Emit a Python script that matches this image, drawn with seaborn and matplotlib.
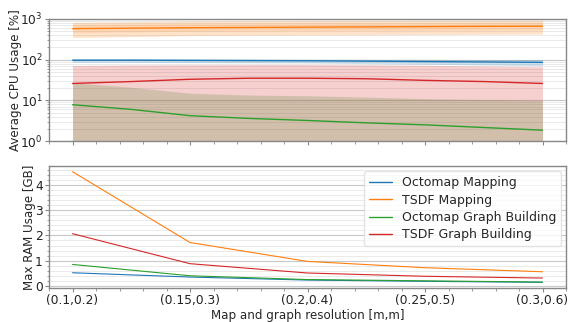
import numpy as np
import pandas as pd
import matplotlib
matplotlib.use("Agg")
import matplotlib.pyplot as plt
import seaborn as sns
from matplotlib.ticker import AutoMinorLocator, LogLocator, NullFormatter

sns.set_style("ticks")
plt.rcParams['font.family'] = ['DejaVu Sans']

# ---- data ----
resolutions = ["(0.1,0.2)", "(0.15,0.3)", "(0.2,0.4)", "(0.25,0.5)", "(0.3,0.6)"]
series_names = ["Octomap Mapping", "TSDF Mapping", "Octomap Graph Building", "TSDF Graph Building"]

# CPU usage (sampled along the resolution axis)
cpu_x = [0, 0.5, 1, 1.5, 2, 2.5, 3, 3.5, 4]
cpu_octo_map = [97, 97, 96, 95, 94, 92, 90, 88, 86]
cpu_octo_map_lo = [86, 86, 85, 84, 83, 80, 77, 74, 71]
cpu_octo_map_hi = [106, 106, 106, 105, 104, 103, 102, 101, 101]
cpu_tsdf_map = [580, 595, 610, 620, 630, 640, 650, 660, 665]
cpu_tsdf_map_lo = [350, 370, 390, 400, 405, 410, 415, 420, 425]
cpu_tsdf_map_hi = [830, 860, 890, 910, 920, 930, 935, 935, 935]
cpu_tsdf_map_lo2 = [460, 480, 500, 510, 520, 525, 530, 535, 540]
cpu_tsdf_map_hi2 = [740, 760, 780, 790, 800, 810, 815, 820, 820]
cpu_octo_graph = [7.8, 6.0, 4.2, 3.6, 3.2, 2.8, 2.5, 2.15, 1.85]
cpu_octo_graph_lo = [0.1, 0.1, 0.1, 0.1, 0.1, 0.1, 0.1, 0.1, 0.1]
cpu_octo_graph_hi = [27, 21, 15, 13.5, 13, 12, 11, 10.5, 10]
cpu_tsdf_graph = [26, 29, 33, 35, 35, 34, 31, 29, 26]
cpu_tsdf_graph_lo = [0.1, 0.1, 0.1, 0.1, 0.1, 0.1, 0.1, 0.1, 0.1]
cpu_tsdf_graph_hi = [72, 74, 75, 76, 76, 75, 73, 70, 67]

# Max RAM usage [GB] per resolution
ram_octo_map = [0.52, 0.35, 0.23, 0.18, 0.14]
ram_tsdf_map = [4.53, 1.72, 0.97, 0.72, 0.56]
ram_octo_graph = [0.85, 0.40, 0.25, 0.20, 0.15]
ram_tsdf_graph = [2.07, 0.88, 0.51, 0.38, 0.31]

colors = ["#1f77b4", "#ff7f0e", "#2ca02c", "#d62728"]

# ---- figure ----
fig = plt.figure(figsize=(5.7, 3.22), dpi=100)
ax1 = fig.add_axes([0.086, 0.562, 0.907, 0.379])
ax2 = fig.add_axes([0.086, 0.106, 0.907, 0.378], sharex=ax1)

# top: CPU
cpu_lines = [cpu_octo_map, cpu_tsdf_map, cpu_octo_graph, cpu_tsdf_graph]
cpu_lo = [cpu_octo_map_lo, cpu_tsdf_map_lo, cpu_octo_graph_lo, cpu_tsdf_graph_lo]
cpu_hi = [cpu_octo_map_hi, cpu_tsdf_map_hi, cpu_octo_graph_hi, cpu_tsdf_graph_hi]
cpu_df = pd.concat([pd.DataFrame({"x": cpu_x, "y": v, "series": n})
                    for n, v in zip(series_names, cpu_lines)], ignore_index=True)
for n, lo, hi, c in zip(series_names, cpu_lo, cpu_hi, colors):
    ax1.fill_between(cpu_x, lo, hi, color=c, alpha=0.22, linewidth=0)
ax1.fill_between(cpu_x, cpu_tsdf_map_lo2, cpu_tsdf_map_hi2, color=colors[1], alpha=0.12, linewidth=0)
sns.lineplot(data=cpu_df, x="x", y="y", hue="series", palette=colors,
             hue_order=series_names, ax=ax1, legend=False, linewidth=1.0)
ax1.set_yscale("log")
ax1.set_ylim(1, 1000)
ax1.set_ylabel("Average CPU Usage [%]", fontsize=8.6, labelpad=-1)
ax1.set_xlabel("")
ax1.yaxis.set_minor_locator(LogLocator(base=10, subs=np.arange(2, 10), numticks=20))
ax1.yaxis.set_minor_formatter(NullFormatter())
plt.setp(ax1.get_xticklabels(), visible=False)

# bottom: RAM
ram_lines = [ram_octo_map, ram_tsdf_map, ram_octo_graph, ram_tsdf_graph]
ram_df = pd.concat([pd.DataFrame({"x": np.arange(len(resolutions)), "y": v, "series": n})
                    for n, v in zip(series_names, ram_lines)], ignore_index=True)
sns.lineplot(data=ram_df, x="x", y="y", hue="series", palette=colors,
             hue_order=series_names, ax=ax2, linewidth=0.8)
ax2.set_ylabel("Max RAM Usage [GB]", fontsize=8.6, labelpad=-1)
ax2.set_xlabel("Map and graph resolution [m,m]", fontsize=8.6, labelpad=1)
ax2.set_xticks(np.arange(len(resolutions)))
ax2.set_xticklabels(resolutions)
ax2.set_xlim(-0.2, 4.2)
ax2.set_yticks([0, 1, 2, 3, 4])
ax2.yaxis.set_minor_locator(AutoMinorLocator(5))
ax2.xaxis.set_minor_locator(AutoMinorLocator(5))
leg = ax2.legend(loc="upper right", fontsize=9, frameon=True, handlelength=1.8,
                 handletextpad=0.8, labelspacing=0.35, borderaxespad=0.4)
leg.get_frame().set_edgecolor("#dddddd")
for l in leg.get_lines():
    l.set_linewidth(1.0)

for ax in (ax1, ax2):
    ax.grid(True, which="major", axis="y", color="#c8c8c8", linewidth=0.8)
    ax.grid(True, which="minor", axis="y", color="#e6e6e6", linewidth=0.6)
    ax.set_axisbelow(True)
    for s in ax.spines.values():
        s.set_color("#888888")
        s.set_linewidth(1.0)
    ax.tick_params(axis="both", which="both", colors="#888888", labelcolor="#222222",
                   labelsize=8.8, pad=1.5)
    ax.tick_params(which="major", length=3)
    ax.tick_params(which="minor", length=1.8)

fig.savefig("out.png", dpi=100)
